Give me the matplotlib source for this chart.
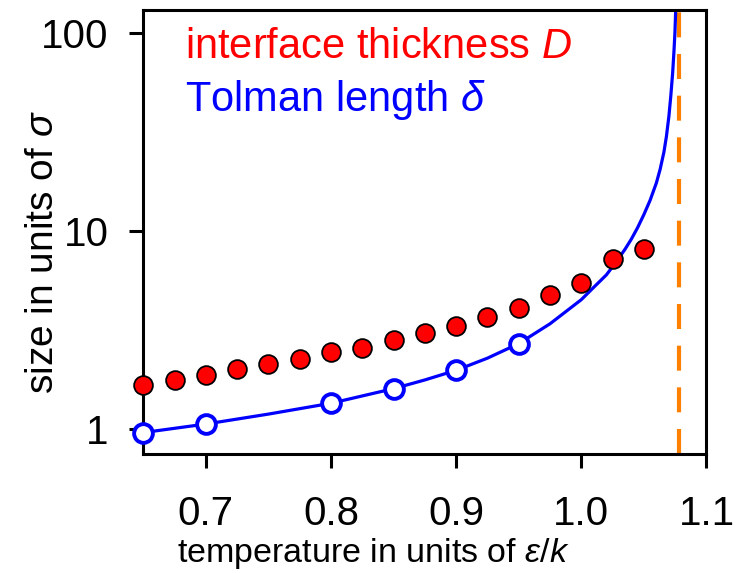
import matplotlib
matplotlib.use('Agg')
import matplotlib.pyplot as plt

# interface thickness D (filled red), temperature step 0.025
temp_d = [0.65, 0.675, 0.70, 0.725, 0.75, 0.775, 0.80, 0.825, 0.85,
          0.875, 0.90, 0.925, 0.95, 0.975, 1.00, 1.025, 1.05]
thick_d = [1.67, 1.77, 1.87, 2.00, 2.12, 2.27, 2.45, 2.58, 2.82,
           3.04, 3.33, 3.70, 4.08, 4.73, 5.46, 7.18, 8.13]

# Tolman length delta (open blue)
temp_tol = [0.65, 0.70, 0.80, 0.85, 0.90, 0.95]
tolman = [0.96, 1.06, 1.35, 1.60, 1.98, 2.70]

# fitted curve
temp_fit = [0.65, 0.70, 0.75, 0.80, 0.85, 0.875, 0.90, 0.925, 0.95, 0.975,
            1.00, 1.01, 1.02, 1.025, 1.03, 1.035, 1.04, 1.045, 1.05, 1.055,
            1.06, 1.063, 1.066, 1.068, 1.070, 1.0715, 1.073, 1.074, 1.0748, 1.0755]
tolman_fit = [0.96, 1.06, 1.19, 1.35, 1.60, 1.77, 1.98, 2.28, 2.70, 3.4,
              4.5, 5.2, 6.0, 6.6, 7.3, 8.1, 9.1, 10.4, 12.1, 14.3,
              17.5, 20.5, 25, 30, 38, 48, 63, 80, 100, 135]

t_crit = 1.078

plt.rcParams['font.family'] = ['Liberation Sans', 'DejaVu Sans']
plt.rcParams['mathtext.fontset'] = 'custom'
plt.rcParams['mathtext.rm'] = 'Liberation Sans'
plt.rcParams['mathtext.it'] = 'Liberation Sans:italic'

fig = plt.figure(figsize=(7.46, 5.73), dpi=100)
ax = fig.add_axes([0.192, 0.208, 0.755, 0.774])

ax.plot(temp_fit, tolman_fit, color='#0000ff', lw=2.3, zorder=2)
ax.axvline(t_crit, color='#ff8000', lw=3, dashes=(6, 4), zorder=1)
ax.plot(temp_d, thick_d, 'o', ms=13.5, mfc='red', mec='black', mew=1.3,
        clip_on=False, zorder=4)
ax.plot(temp_tol, tolman, 'o', ms=13.5, mfc='white', mec='#0000ff', mew=2.8,
        clip_on=False, zorder=3)

ax.set_yscale('log')
ax.set_xlim(0.65, 1.1)
ax.set_ylim(0.75, 130)
ax.set_yticks([1, 10, 100])
ax.set_yticklabels(['1', '10', '100'])
ax.set_xticks([0.7, 0.8, 0.9, 1.0, 1.1])
ax.set_xticklabels(['0.7', '0.8', '0.9', '1.0', '1.1'])
ax.minorticks_off()

for s in ax.spines.values():
    s.set_linewidth(2.2)
ax.tick_params(axis='both', length=10, width=2.2, labelsize=29)
ax.tick_params(axis='x', pad=20)
ax.tick_params(axis='y', pad=15)

ax.set_xlabel(r'temperature in units of $\epsilon/k$', fontsize=24.5)
ax.xaxis.set_label_coords(0.409, -0.185)
ax.set_ylabel(r'size in units of $\sigma$', fontsize=28)
ax.yaxis.set_label_coords(-0.146, 0.455)

ax.text(0.075, 0.917, r'interface thickness $D$', color='red', fontsize=30,
        transform=ax.transAxes, va='center')
ax.text(0.075, 0.797, r'Tolman length $\delta$', color='#0000ff', fontsize=30,
        transform=ax.transAxes, va='center')

fig.savefig('out.png', dpi=100)
plt.close()
